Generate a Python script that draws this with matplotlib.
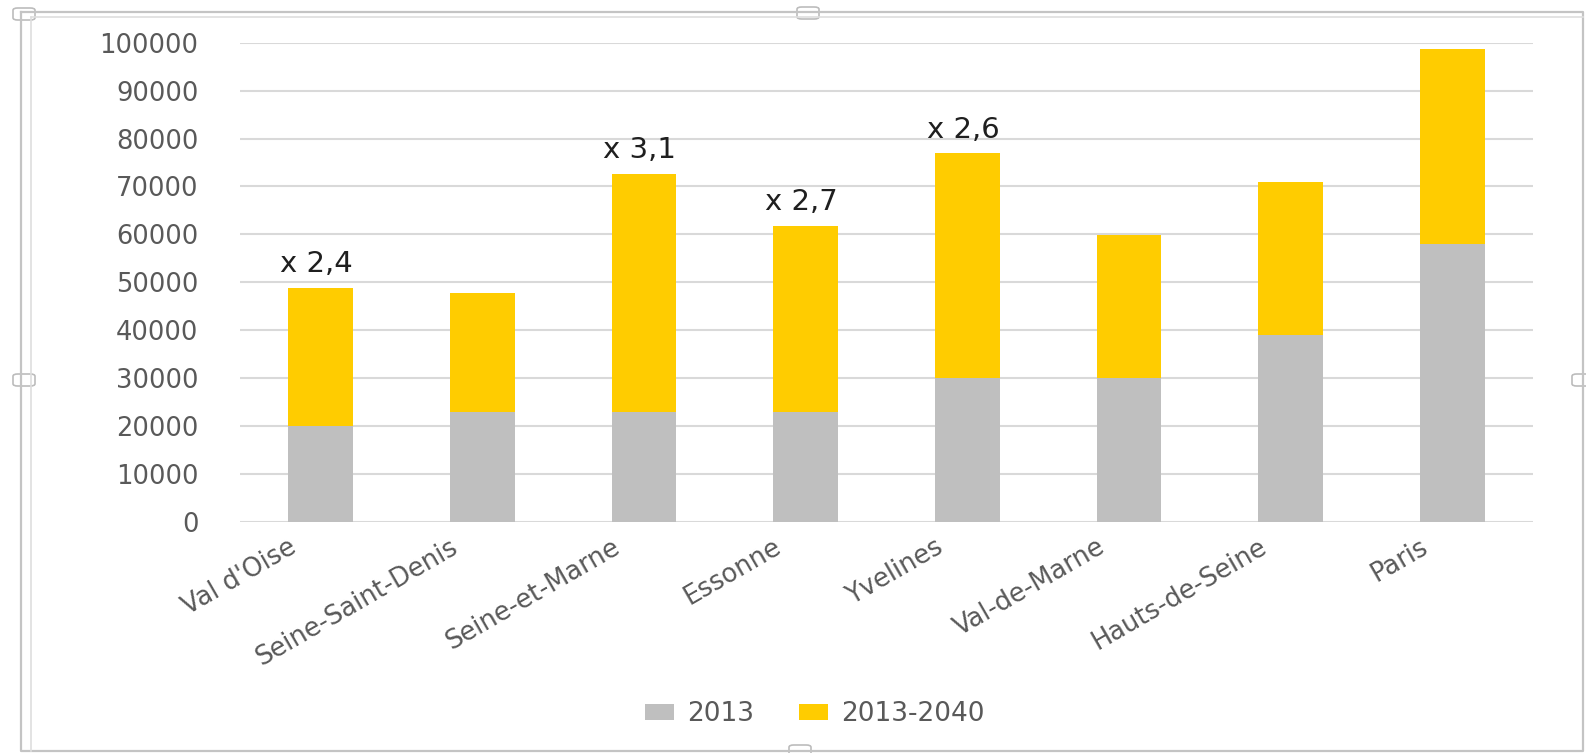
import matplotlib
matplotlib.use("Agg")
import matplotlib.pyplot as plt
import matplotlib.transforms as mtransforms
from matplotlib.patches import FancyBboxPatch
from matplotlib.lines import Line2D

# data
departements = ["Val d'Oise", "Seine-Saint-Denis", "Seine-et-Marne", "Essonne",
                "Yvelines", "Val-de-Marne", "Hauts-de-Seine", "Paris"]
val_2013 = [20000, 22800, 22800, 22800, 30000, 30000, 39000, 58000]
val_2013_2040 = [28800, 24900, 49800, 39000, 46900, 29800, 31900, 40700]
ratio_labels = ["x 2,4", "", "x 3,1", "x 2,7", "x 2,6", "", "", ""]
series_names = ["2013", "2013-2040"]
y_ticks = list(range(0, 100001, 10000))

GREY = "#bfbfbf"
YELLOW = "#ffcc00"
TXT = "#595959"
GRID = "#d9d9d9"

W, H = 1586, 753
fig = plt.figure(figsize=(W / 100, H / 100), dpi=100)
fig.patch.set_facecolor("white")

ax = fig.add_axes([240 / W, 1 - 521.7 / H, (1533 - 240) / W, (521.7 - 42.7) / H])
x = list(range(len(departements)))
ax.bar(x, val_2013, width=0.4, color=GREY, label=series_names[0], zorder=2)
ax.bar(x, val_2013_2040, width=0.4, bottom=val_2013, color=YELLOW,
       label=series_names[1], zorder=2)

for i, lbl in enumerate(ratio_labels):
    if lbl:
        ax.annotate(lbl, xy=(i, val_2013[i] + val_2013_2040[i]), xytext=(-3, 7),
                    textcoords="offset points", ha="center", va="bottom",
                    fontsize=21, color="#1f1f1f")

ax.set_xlim(-0.5, len(departements) - 0.5)
ax.set_ylim(0, 100000)
ax.set_yticks(y_ticks)
ax.set_yticklabels([str(v) for v in y_ticks], fontsize=18.5, color=TXT)
ax.yaxis.grid(True, color=GRID, lw=1.5, zorder=0)
ax.set_axisbelow(True)
for s in ax.spines.values():
    s.set_visible(False)
ax.tick_params(axis="y", length=0, pad=30)
ax.tick_params(axis="x", length=0, pad=17)

ax.set_xticks(x)
ax.set_xticklabels(departements, rotation=30, ha="right", va="center",
                   rotation_mode="anchor", fontsize=18.5, color=TXT)
shift = mtransforms.ScaledTranslation(-26 / 100, 0, fig.dpi_scale_trans)
for t in ax.get_xticklabels():
    t.set_transform(t.get_transform() + shift)

fig.legend(loc="center", bbox_to_anchor=(815 / W, 1 - 714 / H), ncol=2,
           frameon=False, fontsize=19, labelcolor=TXT, handlelength=1.1,
           handleheight=0.55, handletextpad=0.5, columnspacing=1.7)

# chart selection frame
def px_line(xs, ys, color, lw):
    fig.add_artist(Line2D([v / W for v in xs], [1 - v / H for v in ys],
                          color=color, lw=lw, transform=fig.transFigure))

px_line([21, 1583, 1583, 21, 21], [12, 12, 751, 751, 12], "#c4c4c4", 1.6)
px_line([31, 1583], [17, 17], "#dedede", 1.2)
px_line([31, 31], [17, 751], "#dedede", 1.2)
for cx, cy in [(24, 14), (808, 13), (24, 380), (1583, 380), (800, 751)]:
    fig.add_artist(FancyBboxPatch(((cx - 11) / W, 1 - (cy + 6) / H), 22 / W, 12 / H,
                                  boxstyle="round,pad=0,rounding_size=0.003",
                                  fc="white", ec="#bcbcbc", lw=1.2,
                                  transform=fig.transFigure))

fig.savefig("out.png", dpi=100, facecolor="white")
